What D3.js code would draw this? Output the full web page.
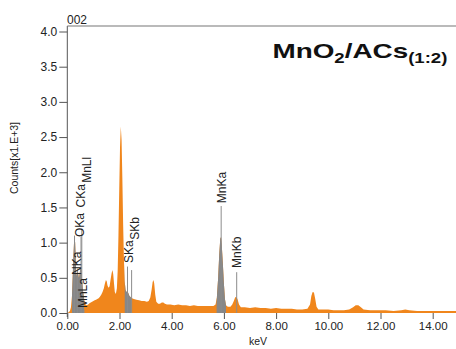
<!DOCTYPE html>
<html>
<head>
<meta charset="utf-8">
<script src="https://cdn.jsdelivr.net/npm/d3@7"></script>
<style>
  html, body { margin: 0; padding: 0; background: #fff; }
  svg { display: block; font-family: "Liberation Sans", Arial, sans-serif; }
</style>
</head>
<body>
<svg id="chart" width="456" height="349"></svg>
<script>
// EDS spectrum of MnO2/ACs (1:2): energy (keV) vs counts (x1000)
const energy = [
  0.00, 0.05, 0.10, 0.14, 0.18, 0.21, 0.24, 0.26, 0.28, 0.30, 0.32, 0.34, 0.36, 0.38, 0.40,
  0.42, 0.44, 0.46, 0.48, 0.50, 0.52, 0.54, 0.56, 0.58, 0.60, 0.63, 0.66, 0.70, 0.75, 0.80,
  0.85, 0.90, 0.95, 1.00, 1.05, 1.10, 1.15, 1.20, 1.25, 1.30, 1.35, 1.40, 1.44, 1.48, 1.51,
  1.54, 1.58, 1.62, 1.66, 1.70, 1.73, 1.76, 1.79, 1.82, 1.86, 1.90, 1.93, 1.96, 1.99, 2.02,
  2.05, 2.08, 2.11, 2.14, 2.17, 2.20, 2.23, 2.26, 2.29, 2.32, 2.35, 2.38, 2.41, 2.44, 2.48,
  2.55, 2.65, 2.75, 2.85, 2.95, 3.05, 3.12, 3.18, 3.23, 3.27, 3.30, 3.33, 3.37, 3.41, 3.48,
  3.55, 3.62, 3.68, 3.74, 3.82, 3.95, 4.10, 4.25, 4.40, 4.55, 4.70, 4.85, 5.00, 5.15, 5.30,
  5.45, 5.60, 5.68, 5.73, 5.78, 5.82, 5.86, 5.89, 5.92, 5.96, 6.00, 6.04, 6.08, 6.15, 6.25,
  6.32, 6.38, 6.43, 6.47, 6.52, 6.58, 6.65, 6.80, 7.00, 7.20, 7.40, 7.60, 7.80, 8.00, 8.20,
  8.40, 8.60, 8.80, 9.00, 9.20, 9.30, 9.35, 9.40, 9.45, 9.50, 9.55, 9.62, 9.80, 10.00, 10.20,
  10.40, 10.60, 10.80, 10.95, 11.05, 11.15, 11.25, 11.35, 11.60, 11.90, 12.20, 12.50, 12.80, 12.95, 13.10,
  13.40, 13.70, 14.00, 14.40, 14.80, 15.00
];
const counts = [
  0.00, 0.01, 0.03, 0.08, 0.25, 0.55, 0.85, 1.02, 1.10, 1.00, 0.78, 0.58, 0.52, 0.60, 0.64,
  0.55, 0.50, 0.52, 0.58, 0.63, 0.65, 0.60, 0.48, 0.40, 0.32, 0.24, 0.17, 0.12, 0.11, 0.12,
  0.14, 0.15, 0.16, 0.17, 0.18, 0.19, 0.20, 0.21, 0.23, 0.26, 0.30, 0.35, 0.42, 0.47, 0.45,
  0.39, 0.36, 0.38, 0.48, 0.57, 0.61, 0.55, 0.42, 0.30, 0.27, 0.35, 0.60, 1.10, 1.75, 2.35,
  2.65, 2.45, 1.90, 1.25, 0.75, 0.45, 0.33, 0.30, 0.31, 0.30, 0.27, 0.24, 0.23, 0.22, 0.21,
  0.20, 0.19, 0.18, 0.17, 0.17, 0.16, 0.17, 0.22, 0.33, 0.44, 0.47, 0.42, 0.26, 0.16, 0.13,
  0.13, 0.15, 0.15, 0.13, 0.12, 0.12, 0.11, 0.12, 0.11, 0.11, 0.10, 0.11, 0.10, 0.10, 0.10,
  0.10, 0.10, 0.12, 0.22, 0.50, 0.82, 1.05, 1.08, 0.95, 0.70, 0.42, 0.20, 0.11, 0.09, 0.09,
  0.12, 0.17, 0.22, 0.23, 0.20, 0.12, 0.08, 0.08, 0.07, 0.08, 0.07, 0.07, 0.06, 0.07, 0.06,
  0.06, 0.06, 0.05, 0.05, 0.06, 0.12, 0.24, 0.30, 0.29, 0.20, 0.09, 0.05, 0.05, 0.05, 0.04,
  0.04, 0.04, 0.05, 0.08, 0.11, 0.11, 0.08, 0.05, 0.04, 0.04, 0.04, 0.03, 0.04, 0.05, 0.04,
  0.03, 0.03, 0.03, 0.03, 0.03, 0.03
];

// Element ROI windows (keV) shaded grey
const roiStart = [0.18, 2.20, 5.72];
const roiEnd   = [0.64, 2.44, 6.08];

// Identified lines: name, energy (keV), marker height (counts x1000)
const markerNames  = ["CKa", "NKa", "OKa", "MnLl", "MnLa", "SKa", "SKb", "MnKa", "MnKb"];
const markerEnergy = [0.277, 0.392, 0.525, 0.556, 0.637, 2.307, 2.464, 5.895, 6.490];
const markerHeight = [1.10, 0.52, 1.08, 1.20, 0.05, 0.66, 0.61, 1.52, 0.58];

const xTicks = [0, 2, 4, 6, 8, 10, 12, 14];
const yTicks = [0, 0.5, 1, 1.5, 2, 2.5, 3, 3.5, 4];

// Label anchors (keV of label centre, counts at label start) – staggered to avoid overlap
const labelLayout = {
  CKa:  { e: 0.52, c: 1.50 },
  NKa:  { e: 0.37, c: 0.54 },
  OKa:  { e: 0.45, c: 1.08 },
  MnLl: { e: 0.72, c: 1.85 },
  MnLa: { e: 0.60, c: 0.07 },
  SKa:  { e: 2.33, c: 0.71 },
  SKb:  { e: 2.58, c: 1.04 },
  MnKa: { e: 5.895, c: 1.56 },
  MnKb: { e: 6.49, c: 0.64 }
};

const svg = d3.select("#chart");
const x = d3.scaleLinear().domain([0, 15]).range([67.3, 458.8]);
const y = d3.scaleLinear().domain([0, 4]).range([313, 31.5]);

const pts = energy.map((e, i) => ({ e, c: counts[i] }));
const area = d3.area().x(d => x(d.e)).y0(y(0)).y1(d => y(d.c));

const ORANGE = "#f0861c";
const GREY = "#878787";
const INK = "#222";

// clip paths for grey ROI windows
const defs = svg.append("defs");
roiStart.forEach((s, i) => {
  defs.append("clipPath").attr("id", "roi" + i)
    .append("rect")
    .attr("x", x(s)).attr("width", x(roiEnd[i]) - x(s))
    .attr("y", 0).attr("height", 349);
});

// spectrum
svg.append("path").datum(pts).attr("d", area).attr("fill", ORANGE);
roiStart.forEach((s, i) => {
  svg.append("path").datum(pts).attr("d", area)
    .attr("fill", GREY).attr("clip-path", `url(#roi${i})`);
});

// marker lines
markerNames.forEach((n, i) => {
  svg.append("line")
    .attr("x1", x(markerEnergy[i])).attr("x2", x(markerEnergy[i]))
    .attr("y1", y(0)).attr("y2", y(markerHeight[i]))
    .attr("stroke", "#8c8c8c").attr("stroke-width", 1);
});

// marker labels (vertical text)
markerNames.forEach(n => {
  const L = labelLayout[n];
  const lx = x(L.e) + 4.5, ly = y(L.c);
  svg.append("text")
    .attr("transform", `translate(${lx},${ly}) rotate(-90)`)
    .attr("font-size", 12)
    .attr("fill", INK)
    .text(n);
});

// axes
const xAxis = d3.axisBottom(x).tickValues(xTicks).tickFormat(d3.format(".2f")).tickSize(6).tickPadding(3);
const gx = svg.append("g").attr("transform", `translate(0,${y(0)})`).call(xAxis);
gx.select(".domain").remove();
gx.selectAll(".tick line").attr("stroke", "#555");
gx.selectAll("text").attr("font-size", 11.5).attr("fill", INK).attr("font-family", "Liberation Sans, Arial, sans-serif");

const yAxis = d3.axisLeft(y).tickValues(yTicks).tickFormat(d3.format(".1f")).tickSize(8).tickPadding(2);
const gy = svg.append("g").attr("transform", `translate(67.3,0)`).call(yAxis);
gy.select(".domain").remove();
gy.selectAll(".tick line").attr("stroke", "#555");
gy.selectAll("text").attr("font-size", 12).attr("fill", INK).attr("font-family", "Liberation Sans, Arial, sans-serif");

// frame lines: left axis and top border
svg.append("line").attr("x1", 67.3).attr("x2", 67.3).attr("y1", 26).attr("y2", 317)
  .attr("stroke", "#555").attr("stroke-width", 1);
svg.append("line").attr("x1", 67.3).attr("x2", 456).attr("y1", 26).attr("y2", 26)
  .attr("stroke", "#777").attr("stroke-width", 1.2);

// sample number
svg.append("text").attr("x", 67).attr("y", 24).attr("font-size", 12).attr("fill", INK).text("002");

// axis titles
svg.append("text").attr("x", 258).attr("y", 345).attr("text-anchor", "middle")
  .attr("font-size", 10.5).attr("fill", INK).text("keV");
svg.append("text").attr("transform", "translate(18,158) rotate(-90)").attr("text-anchor", "middle")
  .attr("font-size", 10.5).attr("fill", INK).text("Counts[x1.E+3]");

// sample title
const tg = svg.append("g").attr("transform", "translate(272.5,57.5)");
const tt = tg.append("text").attr("font-weight", "bold").attr("font-size", 21).attr("fill", "#111");
tt.append("tspan").text("MnO");
tt.append("tspan").attr("font-size", 14).attr("dy", 5).text("2");
tt.append("tspan").attr("dy", -5).text("/ACs");
tt.append("tspan").attr("font-size", 14).attr("dy", 5).text("(1:2)");
const w = tt.node().getBBox().width;
tt.attr("transform", `scale(${175 / w},1)`);
</script>
</body>
</html>
